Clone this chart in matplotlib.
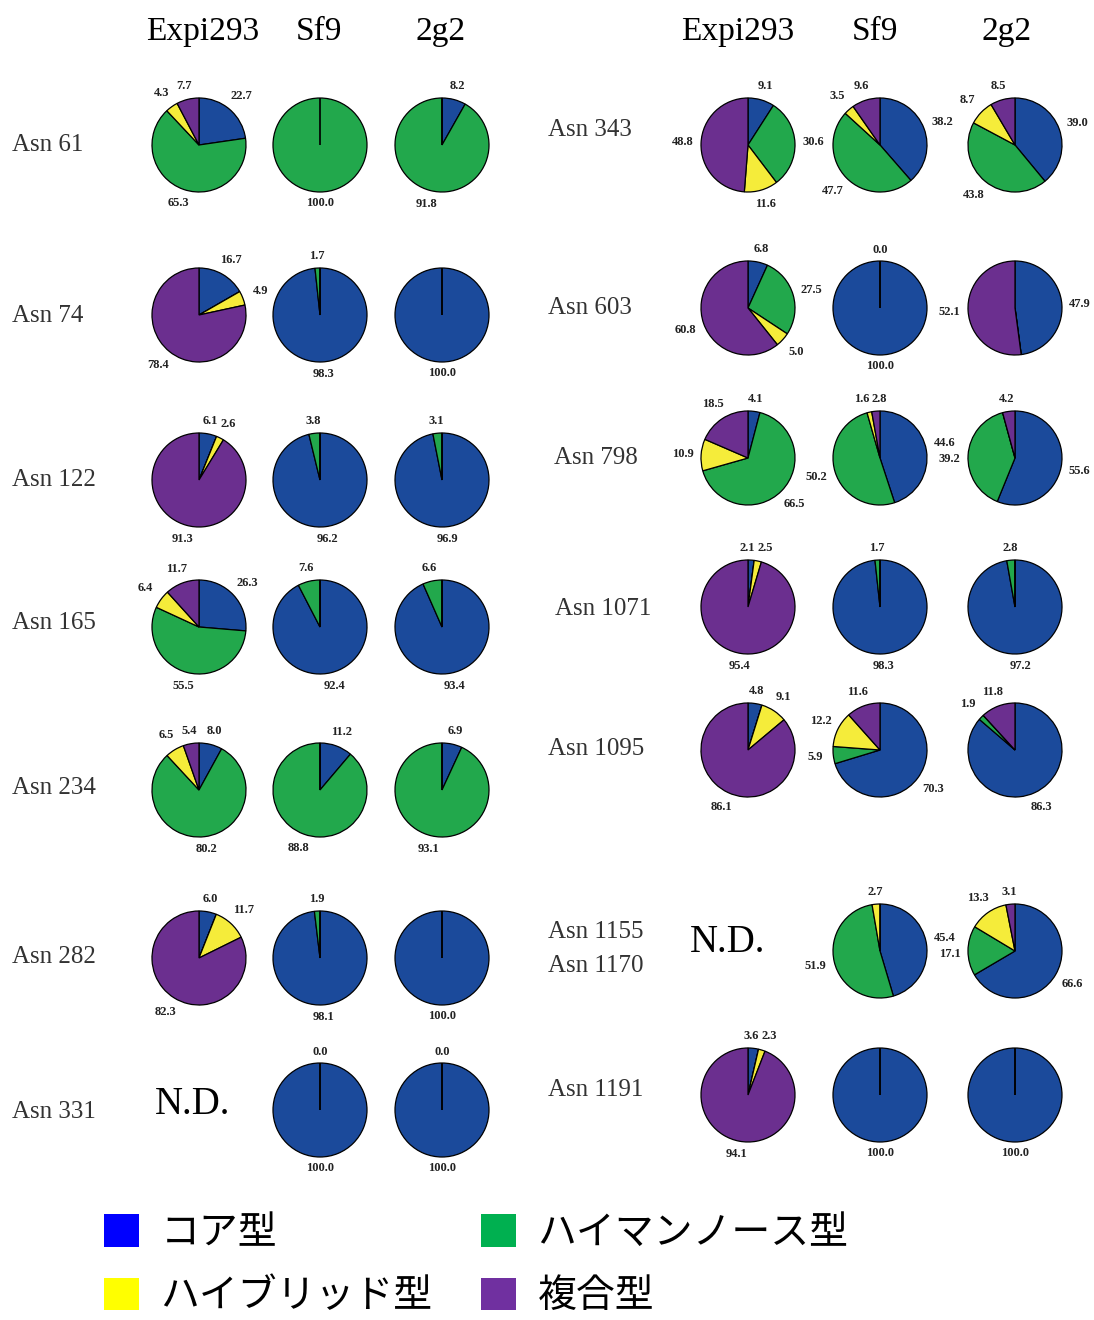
import matplotlib.pyplot as plt
import numpy as np
from matplotlib.patches import Patch

plt.rcParams['font.family'] = ['Liberation Serif', 'DejaVu Serif']

hosts = ['Expi293', 'Sf9', '2g2']
glycan_types = ['コア型', 'ハイマンノース型', 'ハイブリッド型', '複合型']
pie_colors = ['#1b4a9b', '#22a84c', '#f5ec3a', '#6b2f8f']
legend_colors = ['#0000ff', '#00b050', '#ffff00', '#7030a0']

# % per glycan type [core, high-mannose, hybrid, complex] for Expi293, Sf9, 2g2
# None means N.D.
left_sites = ['Asn 61', 'Asn 74', 'Asn 122', 'Asn 165', 'Asn 234', 'Asn 282', 'Asn 331']
left_data = [
    [[22.7, 65.3, 4.3, 7.7], [0, 100.0, 0, 0], [8.2, 91.8, 0, 0]],
    [[16.7, 0, 4.9, 78.4], [98.3, 1.7, 0, 0], [100.0, 0, 0, 0]],
    [[6.1, 0, 2.6, 91.3], [96.2, 3.8, 0, 0], [96.9, 3.1, 0, 0]],
    [[26.3, 55.5, 6.4, 11.7], [92.4, 7.6, 0, 0], [93.4, 6.6, 0, 0]],
    [[8.0, 80.2, 6.5, 5.4], [11.2, 88.8, 0, 0], [6.9, 93.1, 0, 0]],
    [[6.0, 0, 11.7, 82.3], [98.1, 1.9, 0, 0], [100.0, 0, 0, 0]],
    [None, [100.0, 0, 0, 0], [100.0, 0, 0, 0]],
]
right_sites = ['Asn 343', 'Asn 603', 'Asn 798', 'Asn 1071', 'Asn 1095',
               'Asn 1155\nAsn 1170', 'Asn 1191']
right_data = [
    [[9.1, 30.6, 11.6, 48.8], [38.2, 47.7, 3.5, 9.6], [39.0, 43.8, 8.7, 8.5]],
    [[6.8, 27.5, 5.0, 60.8], [100.0, 0, 0, 0], [47.9, 0, 0, 52.1]],
    [[4.1, 66.5, 10.9, 18.5], [44.6, 50.2, 1.6, 2.8], [55.6, 39.2, 0, 4.2]],
    [[2.1, 0, 2.5, 95.4], [98.3, 1.7, 0, 0], [97.2, 2.8, 0, 0]],
    [[4.8, 0, 9.1, 86.1], [70.3, 5.9, 12.2, 11.6], [86.3, 1.9, 0, 11.8]],
    [None, [45.4, 51.9, 2.7, 0], [66.6, 17.1, 13.3, 3.1]],
    [[3.6, 0, 2.3, 94.1], [100.0, 0, 0, 0], [100.0, 0, 0, 0]],
]
# pies where a 0.0 label is printed
zero_labelled = {('Asn 331', 'Sf9'), ('Asn 331', '2g2'), ('Asn 603', 'Sf9')}

W, H = 1094, 1320
fig = plt.figure(figsize=(W / 100, H / 100), dpi=100)
ax = fig.add_axes([0, 0, 1, 1])

R = 47
LABEL_FS = 9
left_x = [199, 320, 442]
left_y = [145, 315, 480, 627, 790, 958, 1110]
right_x = [748, 880, 1015]
right_y = [145, 308, 458, 607, 750, 951, 1095]

labels = []  # [x, y, w, h, text]


def draw_pie(vals, cx, cy, show_zero):
    cy = H - cy
    wedges, _ = ax.pie(vals, colors=pie_colors, startangle=90, counterclock=False,
                       center=(cx, cy), radius=R,
                       wedgeprops=dict(edgecolor='black', linewidth=0.9))
    zero_done = False
    for w, v in zip(wedges, vals):
        if v == 0:
            if not show_zero or zero_done:
                continue
            zero_done = True
        ang = np.deg2rad((w.theta1 + w.theta2) / 2)
        c, s = np.cos(ang), np.sin(ang)
        d = R + 5 + abs(c) * 13 + abs(s) * 6
        s_txt = f'{v:.1f}'
        px = LABEL_FS * 100 / 72
        wid = sum(0.25 * px if ch == '.' else 0.5 * px for ch in s_txt)
        labels.append([cx + d * c, cy + d * s, wid, 0.75 * px, s_txt])


for sites, data, xs, ys in [(left_sites, left_data, left_x, left_y),
                            (right_sites, right_data, right_x, right_y)]:
    for site, row, y in zip(sites, data, ys):
        for host, vals, x in zip(hosts, row, xs):
            if vals is None:
                continue
            draw_pie(vals, x, y, (site, host) in zero_labelled)

# push overlapping value labels apart
for _ in range(60):
    for i in range(len(labels)):
        for j in range(i + 1, len(labels)):
            a, b = labels[i], labels[j]
            ox = (a[2] + b[2]) / 2 + 2 - abs(a[0] - b[0])
            oy = (a[3] + b[3]) / 2 + 6 - abs(a[1] - b[1])
            if ox > 0 and oy > 0:
                if ox < 1.2 * oy:
                    sgn = 1 if a[0] >= b[0] else -1
                    a[0] += sgn * ox / 2
                    b[0] -= sgn * ox / 2
                else:
                    sgn = 1 if a[1] >= b[1] else -1
                    a[1] += sgn * oy / 2
                    b[1] -= sgn * oy / 2

for x, y, wid, hgt, s_txt in labels:
    ax.text(x, y, s_txt, ha='center', va='center', fontsize=LABEL_FS,
            fontweight='bold', color='#222222')

# column headers
for xs in ([203, 319, 441], [738, 875, 1007]):
    for host, x in zip(hosts, xs):
        ax.text(x, H - 40, host, ha='center', va='baseline', fontsize=24, color='black')

# row labels
left_lab_y = [145, 316, 480, 623, 788, 957, 1112]
right_lab_x = [548, 548, 554, 555, 548, 548, 548]
right_lab_y = [130, 308, 458, 609, 749, 949, 1090]
for site, y in zip(left_sites, left_lab_y):
    ax.text(12, H - y, site, ha='left', va='center', fontsize=18, color='#333333')
for site, x, y in zip(right_sites, right_lab_x, right_lab_y):
    ax.text(x, H - y, site, ha='left', va='center', fontsize=18, color='#333333',
            linespacing=1.65)

ax.text(155, H - 1105, 'N.D.', ha='left', va='center', fontsize=28, color='black')
ax.text(690, H - 942, 'N.D.', ha='left', va='center', fontsize=28, color='black')

ax.set_xlim(0, W)
ax.set_ylim(0, H)
ax.set_aspect('equal')
ax.axis('off')

order = [0, 2, 1, 3]
handles = [Patch(facecolor=legend_colors[i], label=glycan_types[i]) for i in order]
fig.legend(handles=handles, ncol=2, loc='upper left',
           bbox_to_anchor=(104 / W, 1 - 1213 / H), frameon=False,
           prop={'family': ['Noto Sans CJK JP'], 'size': 28},
           handlelength=0.9, handleheight=0.9, handletextpad=0.55,
           columnspacing=1.25, labelspacing=0.6, borderpad=0, borderaxespad=0)

fig.savefig('out.png', dpi=100)
